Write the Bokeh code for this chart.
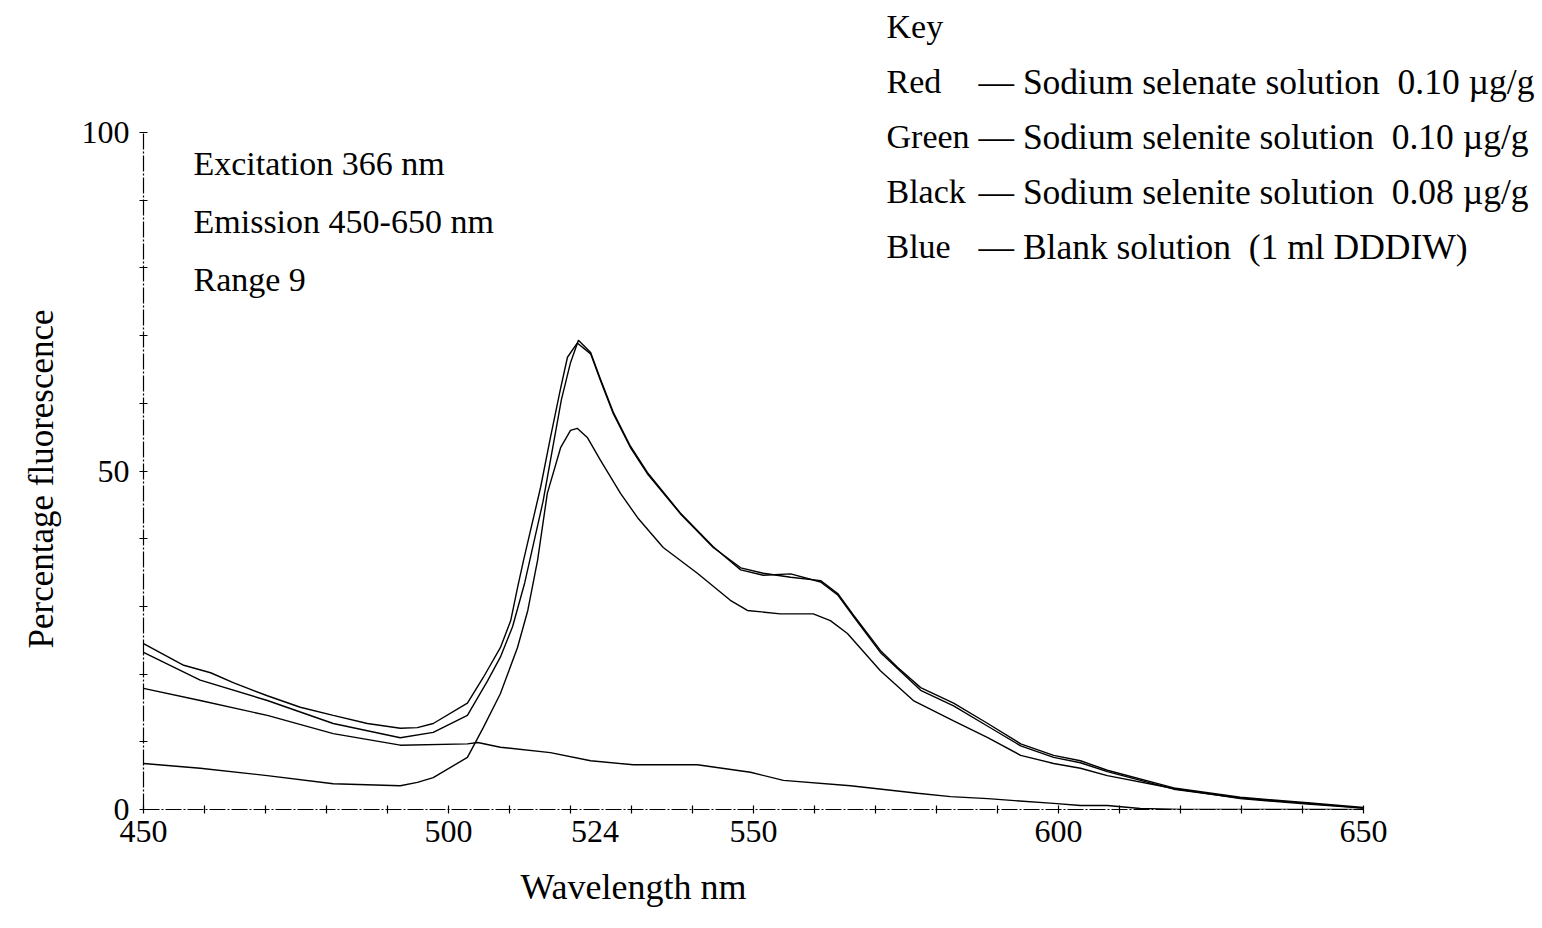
from bokeh.plotting import figure
from bokeh.models import Range1d, LinearAxis, FixedTicker, Label, Title
from bokeh.embed import file_html
from bokeh.resources import INLINE

# ---------------- data ----------------
wl_red = [450, 456.6, 461, 464.8, 470.3, 475.7, 481.1, 486.7, 492.1, 494.9, 497.5, 503.1, 505.7,
          508.5, 510.2, 511.3, 512.3, 515.1, 516.7, 518.4, 519.5, 521.1, 523.3, 524.9, 527.0, 529.8,
          532.6, 538.0, 543.4, 547.9, 551.6, 556.1, 561.0, 563.8, 566.4, 570.8, 573.6, 577.4, 582.8,
          588.4, 593.8, 599.2, 603.6, 608.0, 618.9, 629.8, 640.8, 650]
red = [24.5, 21.3, 20.2, 18.7, 16.8, 15.1, 13.9, 12.7, 12.0, 12.1, 12.7, 15.7, 19.5,
       23.9, 27.9, 32.7, 36.8, 47.6, 54.9, 62.3, 66.8, 68.9, 67.3, 63.4, 58.5, 53.5,
       49.6, 43.7, 38.7, 35.7, 34.9, 34.3, 33.8, 31.9, 28.7, 23.5, 21.0, 18.0, 15.7,
       12.7, 9.7, 8.0, 7.2, 5.8, 3.2, 1.8, 1.0, 0.3]

wl_green = [450, 459.3, 470.3, 481.1, 492.1, 497.5, 503.1, 506.4, 508.5, 510.5, 512.5, 515.5,
            518.5, 520.0, 521.3, 523.3, 524.9, 527.0, 529.8, 532.6, 538.0, 543.4, 547.9, 551.6,
            556.1, 561.0, 563.8, 566.4, 570.8, 577.4, 582.8, 588.4, 593.8, 599.2, 603.6, 608.0,
            618.9, 629.8, 640.8, 650]
green = [23.2, 19.1, 16.1, 12.7, 10.6, 11.4, 13.9, 19.0, 22.5, 27.0, 33.5, 45.5,
         60.5, 66.0, 69.3, 67.5, 63.6, 58.7, 53.7, 49.8, 43.8, 38.8, 35.4, 34.6,
         34.8, 33.6, 31.7, 28.5, 23.2, 17.6, 15.3, 12.3, 9.4, 7.7, 6.9, 5.6,
         3.0, 1.7, 0.9, 0.2]

wl_black = [450, 459.3, 470.3, 481.1, 492.1, 494.9, 497.5, 503.1, 505.7, 508.5, 511.3, 513.0,
            514.6, 516.2, 518.4, 520.0, 521.1, 522.8, 524.9, 528.2, 531.0, 535.2, 540.8, 546.2,
            549.0, 554.4, 559.8, 562.6, 565.4, 570.8, 576.2, 582.8, 588.4, 593.8, 599.2, 603.6,
            608.0, 618.9, 629.8, 640.8, 650]
black = [6.8, 6.1, 5.0, 3.8, 3.5, 4.0, 4.7, 7.7, 12.1, 17.1, 23.9, 29.4,
         36.8, 46.7, 53.5, 56.0, 56.3, 54.9, 51.6, 46.7, 43.1, 38.7, 34.9, 30.9,
         29.4, 28.9, 28.9, 27.9, 26.0, 20.5, 16.1, 13.1, 10.6, 8.0, 6.8, 6.1,
         5.0, 3.1, 1.6, 0.8, 0.2]

wl_blue = [450, 459.3, 470.3, 481.1, 492.1, 503.1, 504.8, 508.5, 516.7, 523.3, 530.3, 540.8,
           549.5, 554.9, 565.9, 576.9, 582.3, 588.4, 599.2, 603.6, 608.0, 613.4, 620, 650]
blue = [17.9, 16.1, 13.9, 11.2, 9.5, 9.7, 9.9, 9.2, 8.4, 7.2, 6.6, 6.6,
        5.5, 4.3, 3.5, 2.4, 1.9, 1.6, 0.9, 0.6, 0.6, 0.15, 0.0, 0.0]

x_tick_labels = [450, 500, 524, 550, 600, 650]
x_minor = list(range(450, 651, 10))
y_tick_labels = [0, 50, 100]
y_minor = list(range(0, 101, 10))

NB2 = " \u00a0"
key_names = ["Red", "Green", "Black", "Blue"]
key_texts = ["\u2014 Sodium selenate solution" + NB2 + "0.10 \u00b5g/g",
             "\u2014 Sodium selenite solution" + NB2 + "0.10 \u00b5g/g",
             "\u2014 Sodium selenite solution" + NB2 + "0.08 \u00b5g/g",
             "\u2014 Blank solution" + NB2 + "(1 ml DDDIW)"]
info_texts = ["Excitation 366 nm", "Emission 450-650 nm", "Range 9"]
x_title = "Wavelength nm"
y_title = "Percentage fluorescence"

# ---------------- layout helpers (pixel -> data) ----------------
def dx(px):
    return 450 + (px - 143) / 6.1

def dy(py):
    return (809 - py) / 6.77

FONT = "Liberation Serif"

p = figure(width=1542, height=928, x_range=Range1d(450, dx(1542)), y_range=Range1d(0, dy(0)),
           x_axis_type=None, y_axis_type=None, output_backend="svg", toolbar_location=None,
           min_border_left=143, min_border_right=0, min_border_top=0, min_border_bottom=928 - 809)
p.outline_line_color = None
p.background_fill_color = "white"
p.border_fill_color = "white"

for xs, ys in [(wl_red, red), (wl_green, green), (wl_black, black), (wl_blue, blue)]:
    p.line(xs, ys, line_color="black", line_width=1.4)

def style_axis(ax):
    ax.axis_line_color = "black"
    ax.axis_line_width = 1.2
    ax.axis_line_dash = "16 2 2 2"
    ax.major_tick_line_color = None
    ax.major_tick_in = 4
    ax.major_tick_out = 4
    ax.minor_tick_line_color = "black"
    ax.minor_tick_line_width = 1.2
    ax.minor_tick_in = 4
    ax.minor_tick_out = 4
    ax.major_label_text_font = FONT
    ax.major_label_text_font_size = "32px"
    ax.major_label_text_color = "black"

xax = LinearAxis(bounds=(450, 650), ticker=FixedTicker(ticks=x_tick_labels, minor_ticks=x_minor))
style_axis(xax)
xax.major_label_standoff = 7
p.add_layout(xax, "below")

yax = LinearAxis(bounds=(0, 100), ticker=FixedTicker(ticks=y_tick_labels, minor_ticks=y_minor))
style_axis(yax)
yax.major_label_standoff = 10
p.add_layout(yax, "left")

xt = Title(text=x_title, align="left", offset=520 - 143, standoff=40,
           text_font=FONT, text_font_size="36px", text_font_style="normal", text_color="black")
p.add_layout(xt, "below")
yt = Title(text=y_title, align="left", offset=809 - 648, standoff=36,
           text_font=FONT, text_font_size="35px", text_font_style="normal", text_color="black")
p.add_layout(yt, "left")

def lab(text, px, py, size="34px", align="left"):
    p.add_layout(Label(x=dx(px), y=dy(py), text=text, text_font=FONT, text_font_size=size,
                       text_color="black", text_align=align, text_baseline="middle"))

for i, t in enumerate(info_texts):
    lab(t, 193, 163 + i * 58)
lab("Key", 886, 26)
for i, (n, t) in enumerate(zip(key_names, key_texts)):
    lab(n, 886, 81 + i * 55)
    lab(t, 978, 81 + i * 55, size="35.5px")

open("out.html", "w").write(file_html(p, INLINE))
